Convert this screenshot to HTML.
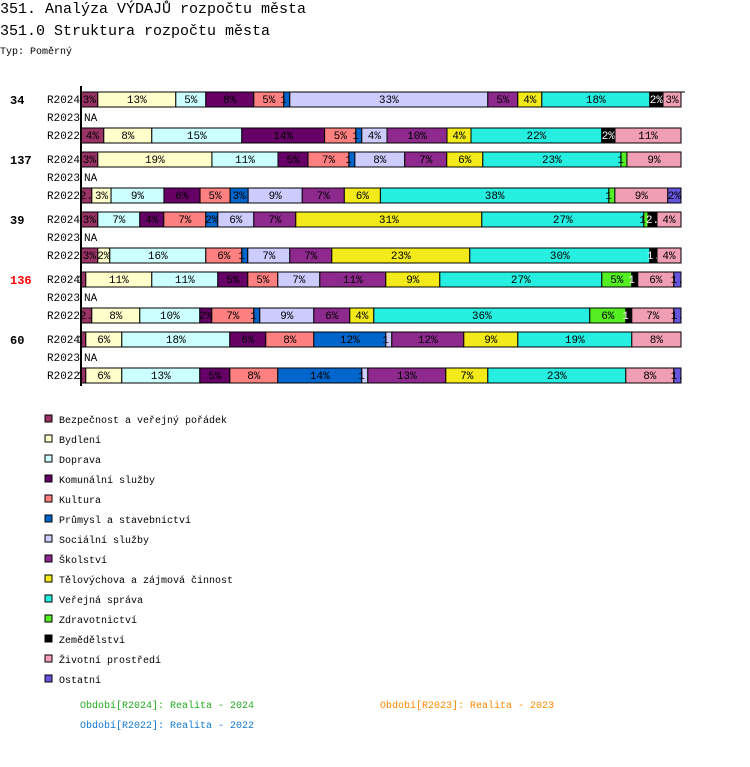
<!DOCTYPE html>
<html><head><meta charset="utf-8">
<style>
body{margin:0;background:#fff;width:750px;height:762px;overflow:hidden;font-family:"Liberation Mono","DejaVu Sans Mono",monospace;}
svg text{font-family:"Liberation Mono","DejaVu Sans Mono",monospace;}
</style></head>
<body>
<svg id="chart" width="750" height="762" xmlns="http://www.w3.org/2000/svg">
<text x="0" y="13" font-size="15">351. Analýza VÝDAJŮ rozpočtu města</text>
<text x="0" y="35" font-size="15">351.0 Struktura rozpočtu města</text>
<text x="0" y="54" font-size="10">Typ: Poměrný</text>
<g id="plot"></g>
<g id="legend"></g>
<text x="80" y="708" font-size="10" fill="#22aa22">Období[R2024]: Realita - 2024</text>
<text x="380" y="708" font-size="10" fill="#ff8800">Období[R2023]: Realita - 2023</text>
<text x="80" y="728" font-size="10" fill="#1177cc">Období[R2022]: Realita - 2022</text>
</svg>
<script>
const categories=["Bezpečnost a veřejný pořádek","Bydlení","Doprava","Komunální služby","Kultura","Průmysl a stavebnictví","Sociální služby","Školství","Tělovýchova a zájmová činnost","Veřejná správa","Zdravotnictví","Zemědělství","Životní prostředí","Ostatní"];
const colors=["#993366","#ffffcc","#ccffff","#660066","#ff8080","#0066cc","#ccccff","#8e2a8e","#f2ea1a","#26eee0","#55ee22","#000000","#f09eb4","#6655dd"];
const groups=["34","137","39","136","60"];
const periods=["R2024","R2023","R2022"];
const g34_2024=[2.8,13,5,8,5,1,33,5,4,18,0,2.2,3,0];
const g34_2022=[3.8,8,15,13.8,5.2,1,4.2,10,4,21.8,0,2.2,11,0];
const g137_2024=[2.8,19,11,5,6.8,1,8.3,7,6,23,1,0,9,0];
const g137_2022=[1.8,3.2,8.8,6,5,3,9,7,6,38,1,0,8.8,2.2];
const g39_2024=[2.8,0,7,4,7,2,6,7,31,27,0.7,1.5,4,0];
const g39_2022=[2.8,2,16,0,6,1,7,7,23,30,0,1.2,4,0];
const g136_2024=[0.8,11,11,5,5,0,7,11,9,27,5,1,6,1.2];
const g136_2022=[1.8,8,10,2,7,1,9,6,4,36,6,1,7,1.2];
const g60_2024=[0.8,6,18,6,8,12,1,12,9,19,0,0,8.2,0];
const g60_2022=[0.8,6,13,5,8,14,1,13,7,23,0,0,8,1.2];
const data=[[g34_2024,null,g34_2022],[g137_2024,null,g137_2022],[g39_2024,null,g39_2022],[g136_2024,null,g136_2022],[g60_2024,null,g60_2022]];

const NS="http://www.w3.org/2000/svg";
const X0=81,W=600,TOP=92,ROW=18,GROUP=60,BH=15;
const xs=v=>v/100*W;
function el(t,a,p){const e=document.createElementNS(NS,t);for(const k in a)e.setAttribute(k,a[k]);p.appendChild(e);return e;}
const plot=document.getElementById('plot');
groups.forEach((g,gi)=>{
  const gy=TOP+gi*GROUP;
  const gl=el('text',{x:10,y:gy+12,'font-size':12,'font-weight':'bold',fill:g==="136"?"#ff0000":"#000"},plot);
  gl.textContent=g;
  
  
  periods.forEach((p,pi)=>{
    const y=gy+pi*ROW;
    const rl=el('text',{x:47,y:y+11,'font-size':11},plot);
    rl.textContent=p;
    
    
    const vals=data[gi][pi];
    if(!vals){
      const na=el('text',{x:84,y:y+11,'font-size':11},plot);
      na.textContent="NA";
      
      
      return;
    }
    const tot=vals.reduce((a,b)=>a+b,0);
    let cx=X0;
    vals.forEach((v,ci)=>{
      if(!v)return;
      const w=xs(v/tot*100);
      const r=el('rect',{x:cx,y:y,width:w,height:BH,fill:colors[ci],stroke:'#000','stroke-width':1},plot);
      
      
      const t=el('text',{x:cx+w/2,y:y+11,'font-size':11,'text-anchor':'middle',fill:ci===11?'#fff':'#000'},plot);
      let lbl=Math.round(v)+"%";
      if(w<12)lbl=Math.round(v)+".";
      t.textContent=lbl;
      
      
      cx+=w;
    });
  });
});
const ax=el('line',{x1:X0,y1:86,x2:X0,y2:386,stroke:'#000','stroke-width':2},plot);


const tl=el('line',{x1:X0,y1:92,x2:685,y2:92,stroke:'#000','stroke-width':1},plot);


const lg=document.getElementById('legend');
categories.forEach((c,i)=>{
  const y=415+i*20;
  const s=el('rect',{x:45,y:y,width:7,height:7,fill:colors[i],stroke:'#000','stroke-width':1},lg);
  
  
  const t=el('text',{x:59,y:y+8,'font-size':10},lg);
  t.textContent=c;
  
  
});
</script>
</body></html>
